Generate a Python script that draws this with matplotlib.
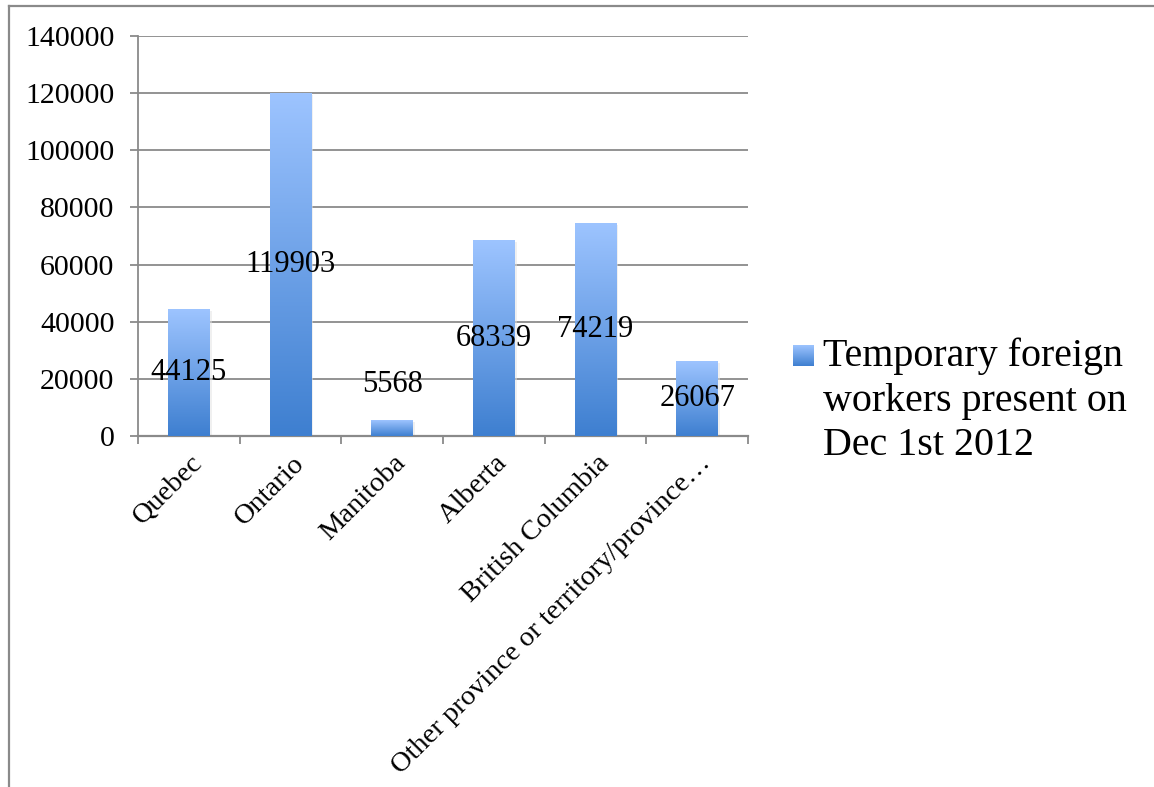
import numpy as np
import matplotlib
matplotlib.use("Agg")
import matplotlib.pyplot as plt
from matplotlib.colors import LinearSegmentedColormap
from matplotlib.patches import Rectangle
from matplotlib.lines import Line2D
from matplotlib.transforms import ScaledTranslation

# data
categories = ["Quebec", "Ontario", "Manitoba", "Alberta", "British Columbia",
              "Other province or territory/province\u2026"]
values = [44125, 119903, 5568, 68339, 74219, 26067]
legend_label = "Temporary foreign\nworkers present on\nDec 1st 2012"
yticks = [0, 20000, 40000, 60000, 80000, 100000, 120000, 140000]

plt.rcParams['font.family'] = ['Liberation Serif', 'DejaVu Serif']

TOP_C = "#9dc4ff"
BOT_C = "#3e7fd0"
AX_C = "#8a8a8a"
grad_cmap = LinearSegmentedColormap.from_list("bar_grad", [BOT_C, TOP_C])
grad = np.linspace(0, 1, 256).reshape(-1, 1)

W, H = 1154, 787
fig = plt.figure(figsize=(W / 100, H / 100), dpi=100)
ax = fig.add_axes([138 / W, 1 - 436 / H, (748 - 138) / W, (436 - 36) / H])

x = np.arange(len(categories))
bw = 0.41

# gridlines
ax.set_yticks(yticks)
ax.yaxis.grid(True, color=AX_C, linewidth=1.3)
ax.set_axisbelow(True)

for xi, v in zip(x, values):
    # faint shadow
    ax.add_patch(Rectangle((xi - bw / 2 + 0.02, -500), bw, v, color="#e2e2e2",
                           alpha=0.5, zorder=2, linewidth=0))
    ax.imshow(grad, cmap=grad_cmap, origin="lower", aspect="auto",
              extent=[xi - bw / 2, xi + bw / 2, 0, v], zorder=3)
    # data label: centred in bar, lifted above when the bar is too short
    ly = v / 2 if v > 20000 else v + 12500
    ax.text(xi, ly, str(v), ha="center", va="center", fontsize=22,
            color="black", zorder=4)

ax.set_xlim(-0.5, len(categories) - 0.5)
ax.set_ylim(0, 140000)

for s in ["top", "right"]:
    ax.spines[s].set_visible(False)
ax.spines["left"].set_color(AX_C)
ax.spines["bottom"].set_color(AX_C)
ax.spines["left"].set_linewidth(1.3)
ax.spines["bottom"].set_linewidth(1.6)

ax.tick_params(axis="y", length=6, width=1.3, color=AX_C, pad=11, labelsize=21.5)
ax.set_xticks(x)
ax.set_xticklabels(categories, rotation=45, ha="right", va="center",
                   rotation_mode="anchor", fontsize=20.5)
ax.tick_params(axis="x", which="major", length=0, pad=17)
ax.set_xticks(np.arange(-0.5, len(categories)), minor=True)
ax.tick_params(axis="x", which="minor", length=6, width=1.3, color=AX_C)
for lab in ax.get_xticklabels():
    lab.set_transform(lab.get_transform() + ScaledTranslation(10 / 100, 0, fig.dpi_scale_trans))

# legend drawn by hand
lax = fig.add_axes([793 / W, 1 - 366 / H, 21 / W, 21 / H])
lax.imshow(grad, cmap=grad_cmap, origin="lower", aspect="auto")
lax.axis("off")
leg_lines = legend_label.split("\n")
for i, line in enumerate(leg_lines):
    fig.text(823 / W, 1 - (366 + 44.5 * i) / H, line, ha="left", va="baseline",
             fontsize=28.8)

# chart frame (left and top edges)
fig.add_artist(Line2D([9 / W, 9 / W], [0, 1 - 6 / H], color=AX_C, linewidth=1.6))
fig.add_artist(Line2D([9 / W, 1], [1 - 6 / H, 1 - 6 / H], color=AX_C, linewidth=1.6))

fig.savefig("out.png", dpi=100)
